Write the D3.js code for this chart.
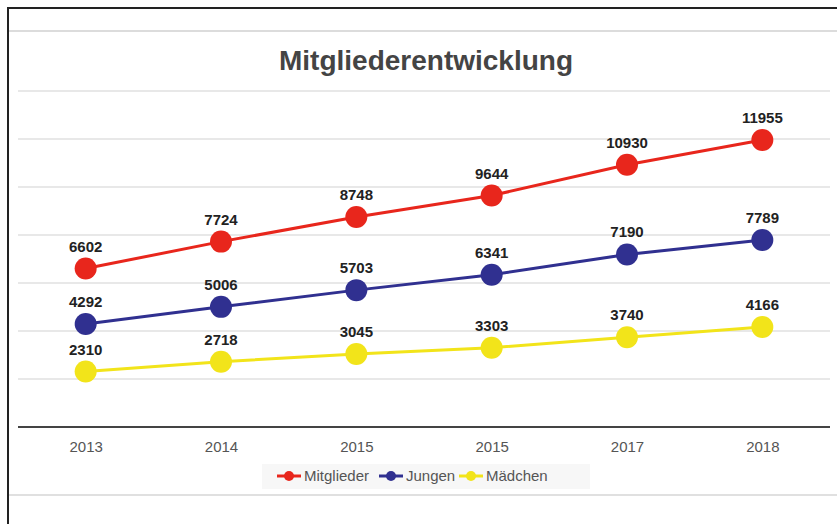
<!DOCTYPE html>
<html>
<head>
<meta charset="utf-8">
<script src="https://cdn.jsdelivr.net/npm/d3@7"></script>
<style>
  body { margin: 0; background: #fff; }
  svg { display: block; font-family: "Liberation Sans", Arial, sans-serif; }
</style>
</head>
<body>
<div id="chart"></div>
<script>
// Data
const years = ["2013", "2014", "2015", "2015", "2017", "2018"];
const mitglieder = [6602, 7724, 8748, 9644, 10930, 11955];
const jungen = [4292, 5006, 5703, 6341, 7190, 7789];
const maedchen = [2310, 2718, 3045, 3303, 3740, 4166];
const seriesNames = ["Mitglieder", "Jungen", "Mädchen"];
const yTicks = [0, 2000, 4000, 6000, 8000, 10000, 12000, 14000];

const width = 837;
const height = 524;

const svg = d3.select("#chart")
    .append("svg")
    .attr("width", width)
    .attr("height", height);

// frame + separator lines
svg.append("rect")
    .attr("x", 8).attr("y", 8)
    .attr("width", 845).attr("height", 530)
    .attr("fill", "none")
    .attr("stroke", "#222")
    .attr("stroke-width", 2);

svg.append("line")
    .attr("x1", 9).attr("x2", width)
    .attr("y1", 31).attr("y2", 31)
    .attr("stroke", "#d0d0d0").attr("stroke-width", 1.5);

svg.append("line")
    .attr("x1", 9).attr("x2", width)
    .attr("y1", 495).attr("y2", 495)
    .attr("stroke", "#d6d6d6").attr("stroke-width", 1.5);

// Scales
const x = d3.scalePoint()
    .domain(d3.range(years.length))
    .range([18, 830])
    .padding(0.5);

const y = d3.scaleLinear()
    .domain([0, 14000])
    .range([427, 91]);

// gridlines
svg.append("g")
    .selectAll("line")
    .data(yTicks.slice(1))
    .enter().append("line")
    .attr("x1", 18).attr("x2", 830)
    .attr("y1", d => y(d)).attr("y2", d => y(d))
    .attr("stroke", "#e0e0e0")
    .attr("stroke-width", 1.5);

// x axis
const xAxis = svg.append("g")
    .attr("transform", `translate(0,${y(0)})`)
    .call(d3.axisBottom(x).tickSize(0).tickPadding(14).tickFormat(i => years[i]));
xAxis.select(".domain")
    .attr("d", "M18,0H830")
    .attr("stroke", "#444")
    .attr("stroke-width", 2);
xAxis.selectAll("text")
    .style("font-size", "15px")
    .attr("fill", "#555");

// title
svg.append("text")
    .attr("x", 426)
    .attr("y", 70)
    .attr("text-anchor", "middle")
    .style("font-size", "28px")
    .style("font-weight", "bold")
    .attr("fill", "#444")
    .text("Mitgliederentwicklung");

const series = [
    {name: seriesNames[0], values: mitglieder, color: "#e8261c"},
    {name: seriesNames[1], values: jungen, color: "#303090"},
    {name: seriesNames[2], values: maedchen, color: "#f2e41a"}
];

const line = d3.line()
    .x((d, i) => x(i))
    .y(d => y(d));

series.forEach(s => {
    const g = svg.append("g");
    g.append("path")
        .attr("d", line(s.values))
        .attr("fill", "none")
        .attr("stroke", s.color)
        .attr("stroke-width", 3);

    g.selectAll("circle")
        .data(s.values)
        .enter().append("circle")
        .attr("cx", (d, i) => x(i))
        .attr("cy", d => y(d))
        .attr("r", 11)
        .attr("fill", s.color);

    g.selectAll("text")
        .data(s.values)
        .enter().append("text")
        .attr("x", (d, i) => x(i))
        .attr("y", d => y(d) - 17)
        .attr("text-anchor", "middle")
        .style("font-size", "15px")
        .style("font-weight", "bold")
        .attr("fill", "#222")
        .text(d => d);
});

// legend
svg.append("rect")
    .attr("x", 262).attr("y", 464)
    .attr("width", 328).attr("height", 25)
    .attr("fill", "#f7f7f7");

const legendX = [277, 379, 459];
const legend = svg.append("g")
    .selectAll("g")
    .data(series)
    .enter().append("g")
    .attr("transform", (d, i) => `translate(${legendX[i]},476)`);

legend.append("line")
    .attr("x1", 0).attr("x2", 24)
    .attr("stroke", d => d.color)
    .attr("stroke-width", 3);

legend.append("circle")
    .attr("cx", 12).attr("r", 5)
    .attr("fill", d => d.color);

legend.append("text")
    .attr("x", 27)
    .attr("dy", "0.35em")
    .style("font-size", "15px")
    .attr("fill", "#555")
    .text(d => d.name);
</script>
</body>
</html>
